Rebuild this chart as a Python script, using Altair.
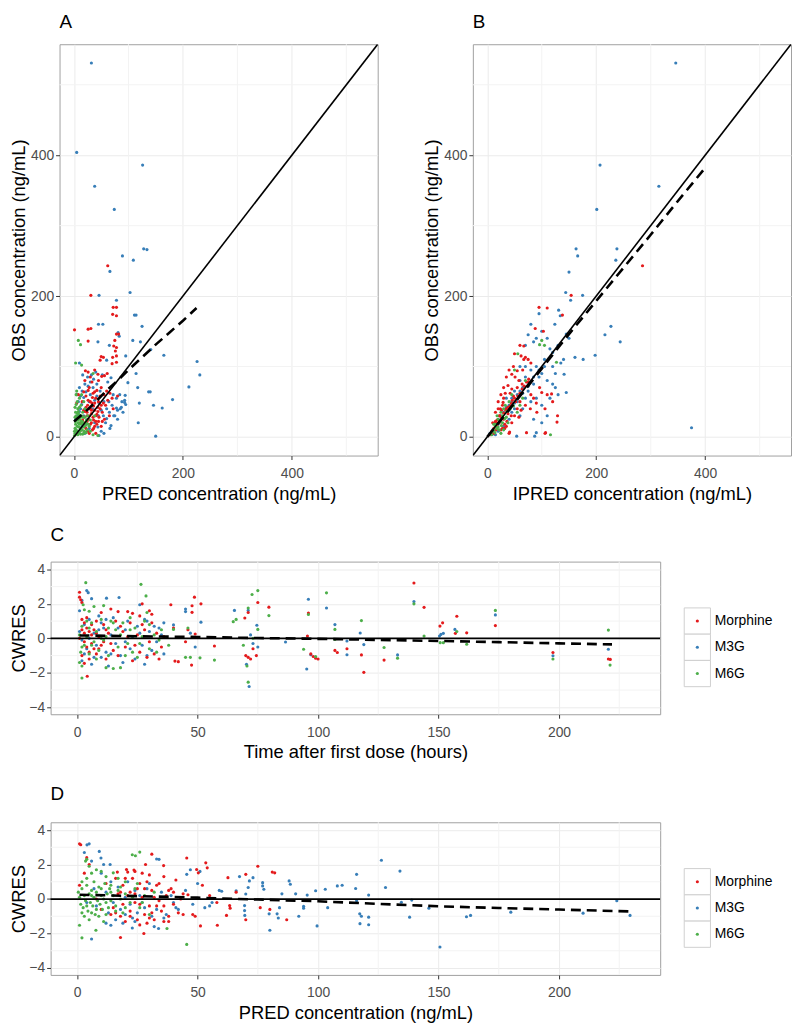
import altair as alt
import pandas as pd

FONT = "Liberation Sans"
CATS = ["Morphine", "M3G", "M6G"]
COLORS = ["#E41A1C", "#377EB8", "#4DAF4A"]
DRAW_ORDER = ["M3G", "Morphine", "M6G"]

# ---------------- Panel A: PRED vs OBS ----------------
A_MOR = [(62,243),(31,201),(72,184),(78,184),(71,174),(78,172),(26,153),(1,152),(31,154),(78,146),(82,146),
         (75,137),(26,136),(73,129),(78,127),(50,114),(54,113),(48,109),(71,113),(76,122),(78,115),(70,104),
         (78,106),(21,94),(26,92),(38,95),(44,89),(51,86),(56,87),(61,90),(28,70),(35,62),(22,58),(40,55),
         (33,48),(45,50),(25,45),(30,40),(38,38),(20,36),(42,32),(35,28),(27,25),(45,22),(30,18),(38,15),
         (22,12),(48,40),(52,35),(55,60),(50,70),(60,65),(15,50),(18,28),(25,8),(40,5),(33,78),(45,80),
         (58,45),(65,30),(12,20),(8,60),(5,48),(62,52),(70,55),(30,85),(20,80),(50,15),(56,25),(36,44),
         (42,66),(26,52),(32,33),(18,64),(48,58),(40,22),(34,10),(24,30),(44,42),(54,48),(66,62),(72,40),(80,58),
         (20,20),(24,22),(28,30),(32,38),(36,24),(40,30),(44,36),(30,50),(34,56),(38,64),(26,66),(22,42),
         (18,38),(16,24),(14,10),(28,5),(32,20),(36,12),(42,18),(46,28),(50,45),(52,22),(24,35),(38,48)]
A_M3G = [(32,531),(5,404),(126,386),(38,356),(74,323),(128,267),(134,266),(89,257),(109,251),(66,235),
         (103,205),(46,201),(78,194),(111,173),(114,173),(125,157),(45,160),(53,160),(81,148),(83,143),
         (108,137),(122,135),(44,135),(65,130),(141,124),(95,115),(165,116),(60,109),(226,107),(231,88),
         (10,105),(114,90),(99,77),(117,70),(137,64),(140,64),(211,71),(181,53),(120,48),(146,45),(162,41),
         (118,20),(150,1),(93,49),(95,46),(87,42),(78,41),(80,38),(94,59),(93,52),(73,30),(68,16),
         (10,70),(5,60),(15,65),(8,50),(20,75),(25,85),(12,40),(18,30),(30,60),(35,70),(42,75),(48,65),
         (55,50),(60,40),(65,35),(70,45),(75,30),(80,25),(85,40),(90,35),(58,20),(66,12),(50,8),(45,30),
         (38,20),(25,25),(15,15),(8,8),(3,25),(28,50),(52,88),(40,92),(62,78),(72,60),(78,55),(84,60),
         (88,50),(55,5),(46,2),(20,5),(32,88),(16,88),(68,84),(6,30),(10,36),(14,46),(18,56),(22,64),
         (26,72),(30,78),(34,40),(38,52),(42,58),(46,48),(50,38),(54,30),(60,26),(64,50),(22,18),(28,12),
         (12,58),(36,82),(44,14)]
A_M6G = [(8,137),(12,131),(3,105),(14,102),(35,90),(44,2),(2,5),(4,10),(6,15),(8,20),(10,25),(12,12),
         (14,18),(5,28),(3,35),(7,40),(9,32),(11,8),(15,22),(18,14),(20,28),(16,35),(13,45),(6,50),(22,20),
         (25,30),(4,60),(10,55),(18,5),(24,10),(28,15),(1,2),(3,18),(7,3),(30,8),(35,3),(16,4),(20,40),
         (26,18),(9,14),(12,28),(2,42),(5,65),(30,24),(22,6),(14,60),(38,30),(18,50),(1,8),(2,12),(3,22),
         (4,30),(5,4),(6,8),(7,24),(8,36),(9,6),(10,18),(11,30),(12,4),(13,22),(14,30),(15,10),(16,28),
         (17,20),(19,8),(21,16),(23,24),(2,28),(6,34),(10,42),(4,46)]
A_SMOOTH_X = [0, 20, 40, 60, 80, 100, 125, 150, 175, 200, 225]
A_SMOOTH_Y = [22, 35, 50, 66, 80, 95, 113, 131, 148, 165, 183]

# ---------------- Panel B: IPRED vs OBS ----------------
B_MOR = [(95,184),(110,183),(138,173),(154,201),(285,243),(128,21),(107,6),(88,154),(103,150),(67,129),
         (70,113),(67,110),(55,94),(45,89),(51,85),(58,80),(64,75),(96,70),(100,63),(118,61),(38,73),
         (45,68),(48,58),(29,49),(35,40),(23,30),(17,20),(32,12),(41,7),(79,40),(91,35),(106,40),(129,30),
         (72,6),(106,5),(60,130),(50,118),(62,115),(75,110),(80,105),(40,95),(48,100),(35,85),(65,95),
         (30,70),(25,60),(42,62),(55,70),(20,50),(28,45),(15,35),(22,30),(30,25),(10,20),(18,15),(25,10),
         (8,8),(12,5),(35,15),(45,20),(50,30),(55,40),(60,50),(70,45),(80,60),(85,55),(110,60),(120,50),
         (40,5),(30,55),(50,55),(20,40),(15,22),(5,3),(38,33),(26,38),(33,62),(44,48),(62,38),(90,48),(75,78),
         (14,18),(18,24),(22,20),(26,28),(30,34),(34,38),(38,42),(42,44),(46,52),(52,50),(56,58),(60,62),
         (64,68),(68,72),(72,78),(76,82),(28,12),(32,18),(36,22),(24,40),(16,10),(12,12),(44,30),(58,28)]
B_M3G = [(346,531),(207,386),(315,356),(201,323),(163,267),(166,257),(238,267),(236,251),(150,234),
         (144,205),(175,201),(153,194),(95,175),(131,180),(134,172),(124,160),(227,157),(216,145),(244,135),
         (198,116),(161,113),(176,110),(141,89),(145,63),(375,13),(87,1),(90,6),(54,1),(70,130),(85,135),
         (90,140),(75,145),(80,160),(100,150),(110,140),(115,125),(120,120),(105,110),(90,100),(80,95),
         (70,85),(60,80),(65,70),(75,65),(85,75),(95,85),(100,90),(110,80),(120,75),(125,70),(130,60),
         (115,55),(100,45),(90,55),(80,50),(70,55),(55,60),(45,50),(40,45),(50,40),(30,35),(25,30),(20,25),
         (15,20),(10,10),(5,5),(35,55),(45,35),(60,30),(65,40),(110,30),(100,20),(85,25),(120,100),
         (135,105),(140,110),(125,90),(60,100),(50,65),(40,25),(30,15),(20,8),(15,3),(150,140),(145,146),(130,130),
         (35,42),(45,55),(55,50),(65,62),(75,72),(85,85),(95,95),(105,100),(70,100),(60,65),(50,48),(40,38),
         (20,18),(10,4)]
B_M6G = [(100,137),(96,131),(56,118),(127,106),(116,3),(20,25),(15,15),(25,35),(30,40),(10,8),(18,30),
         (28,20),(35,28),(22,10),(12,18),(40,50),(45,60),(55,35),(60,45),(8,3),(25,5),(70,80),(50,95),
         (65,55),(33,45),(18,12),(38,20),(105,130),(12,10),(16,18),(20,14),(24,22),(28,30),(32,26),(36,36),
         (26,16),(14,6),(30,10),(42,40),(48,44)]
B_SMOOTH_X = [0, 50, 100, 150, 200, 250, 300, 350, 400]
B_SMOOTH_Y = [0, 48, 97, 146, 193, 240, 287, 335, 382]

# ---------------- Panel C: time vs CWRES ----------------
C_MOR = [(1,2.67),(1,2.39),(1.5,2.24),(2,2.08),(4.2,-2.2),(10,1.5),(14,1.7),(17,1.55),(21,1.55),(23,1.45),
         (27,2.0),(30,1.6),(31,1.4),(38.9,1.95),(40,0.6),(40.6,-1.32),(47.7,1.89),(48.7,2.39),(51.4,2.0),
         (47.7,1.51),(47.5,-1.55),(57,-0.44),(69.6,1.18),(75,2.08),(71,1.5),(79.6,1.81),(70,-1.0),(71,-1.1),
         (72,-1.2),(74.4,-1.0),(73,-0.6),(95.6,0.13),(96,1.47),(97,-0.9),(98,-1.05),(99,-1.15),(100,-1.2),
         (107,-0.7),(108,-0.82),(112,-0.6),(118,-0.96),(119,-1.97),(127.4,-1.26),(139.8,3.21),(144,1.8),
         (150.6,0.71),(151.7,0.9),(157.6,1.28),(157,0.29),(161.7,0.32),(173.6,0.74),(197.5,-0.82),
         (220.5,-1.2),(221.3,-1.22),(2,0.5),(3,0.3),(4,0.6),(5,0.4),(6,0.2),(7,0.5),(3,-0.2),(4,-0.5),
         (5,-0.8),(6,-0.3),(7,-0.6),(8,-0.9),(2,-1.0),(3,-1.45),(9,0.1),(10,-0.4),(11,0.8),(12,-1.2),
         (13,0.3),(15,-0.7),(16,1.0),(18,0.7),(20,-0.5),(22,0.9),(24,-0.4),(25,0.2),(26,-0.8),(28,0.5),
         (29,-1.1),(32,-0.9),(33,0.3),(35,-0.5),(36,0.1),(42,-1.35),(45,-0.2),(46,0.5),(49,0.25),(2,1.1),
         (4,1.2),(11,-0.2),(19,0.4),(26,1.3),(34,-1.2),(8,1.0),(1,0.0),(3,0.9),(5,-1.2),(6,0.8),(8,0.3),
         (9,-0.6),(12,0.5),(14,-0.3),(17,-1.0),(21,0.1),(23,-1.3),(27,0.8),(30,-0.2),(31,0.9)]
C_M3G = [(4,2.77),(4.6,2.65),(12.2,2.33),(17.4,2.37),(2,2.2),(26,1.95),(28,1.1),(29,1.0),(36,0.9),(45,1.7),
         (45,1.55),(51.4,0.94),(47,0.3),(49,-0.5),(40,0.78),(34,0.6),(65.3,1.62),(71,1.62),(74.6,0.76),
         (72,0.2),(73,-0.3),(75,-0.5),(70.3,-1.5),(71.4,-2.79),(86.5,-0.21),(96,2.27),(95.3,-1.78),(97,-0.95),
         (103.5,1.76),(107,0.8),(112,-0.15),(112,-0.95),(117.5,0.31),(119,-0.36),(133,-0.96),(139.8,2.14),
         (150.4,0.13),(151,0.23),(152,0.29),(156.8,0.52),(173.6,1.36),(197.5,-1.01),(220.5,-0.63),(1,0.4),
         (2,-0.1),(3,0.8),(4,-0.6),(5,1.1),(6,-1.5),(7,0.3),(8,-0.4),(9,1.3),(10,-1.1),(11,0.6),(12,-0.8),
         (13,-1.6),(14,0.2),(15,1.2),(16,-0.3),(18,-1.0),(20,0.5),(21,1.0),(22,-0.6),(23,0.1),(24,-1.2),
         (25,0.7),(27,-0.4),(28,-1.5),(30,0.4),(31,-0.7),(33,-0.2),(2,-1.3),(6,2.3),(1,1.6),(19,-1.4),
         (10,0.9),(36,-0.9),(3,-0.9),(5,0.0),(7,-1.1),(9,0.5),(12,1.1),(14,-0.9),(17,0.6),(20,-0.2),
         (26,0.3),(29,-1.0),(32,0.7),(35,0.2)]
C_M6G = [(3.6,3.23),(26.5,3.13),(28.6,2.46),(2,-2.3),(1,-1.4),(2,-1.6),(2.5,1.95),(3,1.66),(5,1.57),(7,1.85),
         (12,-1.7),(15,-1.75),(18,-1.7),(11,1.9),(14,1.0),(22,1.2),(29,1.5),(30,0.8),(35,0.5),(34,-0.1),
         (40,0.52),(38,-0.4),(45,-1.1),(47,-1.1),(51,-1.13),(46,0.6),(57,-1.26),(64.8,0.97),(66,1.1),(71,1.76),
         (72.6,2.54),(75,2.77),(75,0.52),(73,0.0),(69,-0.4),(71,-2.54),(70.5,-1.6),(79.6,1.32),(96,1.38),
         (94,-0.63),(99,-1.05),(103.5,2.64),(107,-0.06),(107,0.52),(118,1.03),(127.4,-0.53),(133,-1.15),
         (139.8,2.0),(144,0.13),(150.7,-0.25),(152,-0.25),(157.6,0.4),(161.7,-0.34),(173.6,1.62),(197.5,-1.2),
         (220.5,0.48),(221.2,-1.55),(1,0.2),(2,0.7),(3,-0.4),(4,0.1),(5,-0.9),(6,0.9),(7,-0.2),(8,0.4),
         (9,-0.7),(10,1.1),(11,-0.1),(13,0.6),(16,0.5),(17,-0.5),(19,0.9),(21,-0.3),(23,-0.8),(24,0.6),
         (25,-1.1),(27,0.1),(30,-0.6),(32,0.2),(1.5,-0.8),(5,0.6),(12,0.1),(2,-0.5),(4,1.0),(6,-0.4),
         (8,-1.2),(10,0.0),(13,-1.0),(15,0.9),(18,0.2),(20,-1.0),(22,0.5),(26,-0.3),(28,1.0),(33,-0.8)]
C_SMOOTH_X = [1, 25, 50, 75, 100, 125, 150, 175, 200, 222]
C_SMOOTH_Y = [0.17, 0.12, 0.08, 0.02, -0.03, -0.09, -0.15, -0.22, -0.29, -0.35]

# ---------------- Panel D: PRED vs CWRES ----------------
D_MOR = [(1,3.2),(1.5,3.15),(4,2.4),(5,2.0),(3,1.5),(1,0.8),(16.7,1.56),(20.5,1.71),(21,1.56),(23.6,1.68),
         (28.4,2.0),(31,2.6),(35.9,1.94),(45.5,2.38),(49.6,1.71),(50.3,1.52),(53.4,2.1),(54,1.81),(62.6,1.24),
         (70,1.43),(75,1.9),(81,1.56),(82,1.52),(18,-2.23),(27.7,-2.0),(51.2,-1.56),(58.2,-1.52),(62,-0.95),
         (63.3,-0.38),(63.5,-0.53),(49,-1.0),(48,-0.9),(44,0.3),(46,0.25),(80,-0.6),(87,-1.2),(76,-0.5),
         (70,-1.2),(15,-0.5),(17,0.3),(18,-1.0),(19,0.8),(20,-1.3),(21,0.2),(22,-0.7),(23,1.2),(24,-0.2),
         (25,0.6),(26,-1.5),(27,0.1),(28,-0.9),(29,1.0),(30,-0.4),(31,0.5),(32,-1.2),(33,0.8),(34,-0.1),
         (35,-0.7),(36,1.3),(37,0.2),(38,-1.0),(39,0.6),(40,-0.3),(41,1.1),(42,-0.8),(43,0.0),(12,0.9),
         (14,-0.9),(26,0.9),(29,-1.4),(33,-0.4),(24,1.6),(19,-0.3),(36,-1.3),(38,0.5),(22,0.4),(31,-0.8),
         (27,1.5),(16,1.2),(8,0.0),(10,-0.6),(55,0.2),(58,-0.2),(52,0.8),(66,0.4),(16,-0.8),(18,0.4),
         (20,1.2),(22,-1.0),(24,0.3),(26,-0.3),(28,0.6),(30,-1.1),(32,0.1),(34,0.9),(36,-0.4),(38,-1.3),
         (40,0.4),(44,-0.9),(30,1.4),(25,-1.2)]
D_M3G = [(4.1,3.14),(5,3.2),(3,2.7),(9.2,2.76),(9.9,2.38),(6,2.2),(13.7,2.0),(33,2.32),(34,2.3),(6,-2.32),
         (14,-1.52),(22.9,-1.68),(33.8,-1.71),(12,-1.4),(45.5,1.43),(47,1.7),(116,1.43),(110,0.8),(108,0.76),
         (103,0.57),(99,0.48),(95.5,0.23),(94,-0.42),(94,-0.53),(92,-1.0),(99.6,-1.56),(90.7,0.3),(88,1.05),
         (88.5,0.86),(85,0.3),(84,-0.5),(83,-0.86),(83.5,-1.1),(80,-1.81),(79.7,-0.86),(77,0.95),(77.5,0.57),
         (77,0.76),(71.5,1.05),(73,1.24),(71,0.67),(70,0.29),(69.5,-0.38),(69.5,-0.67),(69.6,-0.95),(67.4,1.3),
         (66,0.48),(60,0.45),(59,0.5),(56,-0.2),(55,-0.4),(53,-0.5),(51,1.6),(115.6,0.61),(116,-0.1),
         (117.3,-0.86),(118,-1.0),(117.4,-1.43),(121,0.23),(121,-1.05),(121,-1.49),(126.3,2.25),(128,0.67),
         (134,1.62),(134.6,-0.19),(138,-1.05),(138.9,-0.06),(146,-0.53),(150.6,-2.78),(161.6,-1.03),
         (163.3,-0.95),(180,-0.76),(210,-0.82),(224,-0.1),(229.5,-0.95),(104,-0.5),(40,-0.2),(42,-0.6),
         (7,0.6),(8,-0.4),(10,1.5),(12,0.4),(13,-0.8),(14,1.0),(15,-0.2),(16,-1.2),(17,0.7),(18,-0.6),
         (19,-1.4),(20,0.1),(21,1.0),(22,-0.3),(23,-1.1),(24,0.5),(25,-0.8),(26,0.2),(28,-0.5),(30,0.9),
         (32,-1.6),(35,0.4),(37,-0.9),(11,2.0),(4,-0.2),(20,-0.9),(24,-1.3),(27,-0.2),(29,0.6),(31,-1.0),
         (33,-0.6),(36,-1.1),(39,0.2),(41,-0.5),(45,0.5),(48,-0.3),(50,0.9)]
D_M6G = [(1,-1.52),(2,-2.25),(7.8,-1.81),(22.9,2.57),(24.2,2.51),(26,2.72),(4,2.3),(3.5,2.2),(5,1.9),(8,1.7),
         (10,1.6),(6,1.5),(12,1.3),(37.3,-1.71),(45.5,-2.63),(15,1.52),(17,1.2),(20,1.0),(0.5,0.4),(1,0.1),
         (1.5,-0.3),(2,0.6),(2.5,-0.5),(3,0.2),(3.5,-0.1),(4,0.8),(4.5,-0.7),(5,0.3),(5.5,-0.2),(6,0.5),
         (6.5,-0.4),(7,0.1),(7.5,-0.9),(8,0.4),(8.5,-0.1),(9,0.7),(9.5,-0.3),(10,0.2),(10.5,-0.6),(11,0.0),
         (11.5,0.9),(12,-0.2),(12.5,0.3),(13,-0.5),(13.5,0.6),(14,-0.1),(15,0.2),(16,-0.4),(17,0.5),(18,0.0),
         (19,-0.8),(20,0.3),(22,-0.2),(24,0.6),(26,-0.5),(28,0.2),(3,-1.0),(5,-1.2),(4,1.2),(7,1.0),(9,-1.0),
         (11,-1.3),(2,1.0),(6,-0.8),(14,0.8),(30,-0.9),(32,0.4),(25,0.9),(2,-0.8),(4,-0.4),(6,0.2),(8,-0.6),
         (10,0.6),(12,-0.9),(14,0.4),(16,-0.7),(18,0.7),(20,-0.5),(23,0.1),(27,-0.2)]
D_SMOOTH_X = [1, 25, 50, 75, 100, 125, 150, 175, 200, 230]
D_SMOOTH_Y = [0.25, 0.17, 0.08, -0.03, -0.13, -0.28, -0.42, -0.52, -0.61, -0.72]

# axis ticks / limits
AB_DOMAIN = [-26.5, 557.6]
AB_MAJOR = [0, 200, 400]
AB_MINOR = [100, 300, 500]
CD_XDOMAIN = [-11, 242]
CD_YDOMAIN = [-4.4, 4.45]
CD_XMAJOR = [0, 50, 100, 150, 200]
CD_XMINOR = [25, 75, 125, 175, 225]
CD_YMAJOR = [-4, -2, 0, 2, 4]
CD_YMINOR = [-3, -1, 1, 3]

MINOR_COLOR = "#f3f3f3"
COLOR_SCALE = alt.Scale(domain=CATS, range=COLORS)


def make_df(groups, xf, yf):
    rows = []
    for name in DRAW_ORDER:
        for x, y in groups[name]:
            rows.append({xf: x, yf: y, "grp": name})
    return pd.DataFrame(rows)


def letter_title(t, offset, color="black"):
    return alt.Title(t, anchor="start", frame="group", fontSize=19, fontWeight="normal",
                     font=FONT, color=color, offset=offset)


def panel(groups, sx, sy, xdom, ydom, xmaj, xmin, ymaj, ymin, xtitle, ytitle,
          width, height, ref_kind="identity", xtp=4, ytp=2):
    xs = alt.Scale(domain=xdom, nice=False, zero=False)
    ys = alt.Scale(domain=ydom, nice=False, zero=False)
    xax = alt.Axis(values=xmaj, title=xtitle, titlePadding=xtp, labelPadding=7)
    yax = alt.Axis(values=ymaj, title=ytitle, titlePadding=ytp)
    df = make_df(groups, "px", "py")
    gx = alt.Chart(pd.DataFrame({"m": xmin})).mark_rule(color=MINOR_COLOR, strokeWidth=1).encode(
        x=alt.X("m:Q", scale=xs, axis=xax))
    gy = alt.Chart(pd.DataFrame({"m": ymin})).mark_rule(color=MINOR_COLOR, strokeWidth=1).encode(
        y=alt.Y("m:Q", scale=ys, axis=yax))
    pts = alt.Chart(df).mark_circle(size=10, opacity=1).encode(
        x=alt.X("px:Q", scale=xs, axis=xax),
        y=alt.Y("py:Q", scale=ys, axis=yax),
        color=alt.Color("grp:N", scale=COLOR_SCALE, legend=None),
    )
    if ref_kind == "identity":
        ref = alt.Chart(pd.DataFrame({"p": xdom})).mark_line(color="black", strokeWidth=1.6, clip=True).encode(
            x=alt.X("p:Q", scale=xs, axis=xax), y=alt.Y("p:Q", scale=ys, axis=yax))
    else:
        ref = alt.Chart(pd.DataFrame({"z": [0]})).mark_rule(color="black", strokeWidth=1.8).encode(
            y=alt.Y("z:Q", scale=ys, axis=yax))
    sm = alt.Chart(pd.DataFrame({"sx": sx, "sy": sy})).mark_line(
        color="black", strokeWidth=2.6, strokeDash=[10, 6], clip=True).encode(
        x=alt.X("sx:Q", scale=xs, axis=xax), y=alt.Y("sy:Q", scale=ys, axis=yax))
    return alt.layer(gx, gy, pts, ref, sm).properties(width=width, height=height)


def legend_chart(height, letter, offset):
    ldf = pd.DataFrame({"grp": CATS})
    ly = alt.Y("grp:N", scale=alt.Scale(domain=CATS, range=[46.7, 126.2], paddingInner=0, paddingOuter=0),
               axis=None)
    box = alt.Chart(ldf).mark_square(size=700, fill="white", stroke="#cfcfcf", strokeWidth=1, opacity=1).encode(
        x=alt.value(13.5), y=ly)
    dot = alt.Chart(ldf).mark_circle(size=10, opacity=1).encode(
        x=alt.value(13.5), y=ly, color=alt.Color("grp:N", scale=COLOR_SCALE, legend=None))
    txt = alt.Chart(ldf).mark_text(align="left", baseline="middle", font=FONT, fontSize=14, color="black").encode(
        x=alt.value(31), y=ly, text="grp:N")
    return alt.layer(box, dot, txt).properties(
        width=90, height=height, title=letter_title(letter, offset, color="white"),
        view=alt.ViewBackground(stroke="transparent", strokeWidth=0))


def spacer():
    return alt.Chart(pd.DataFrame({"s": [0]})).mark_point(size=0, opacity=0, strokeWidth=0).encode(
        x=alt.value(0), y=alt.value(0)).properties(
        width=1, height=1, view=alt.ViewBackground(stroke="transparent", strokeWidth=0))


chart_a = panel({"Morphine": A_MOR, "M3G": A_M3G, "M6G": A_M6G}, A_SMOOTH_X, A_SMOOTH_Y,
                AB_DOMAIN, AB_DOMAIN, AB_MAJOR, AB_MINOR, AB_MAJOR, AB_MINOR,
                "PRED concentration (ng/mL)", "OBS concentration (ng/mL)", 321, 415).properties(
    title=letter_title("A", 12))
chart_b = panel({"Morphine": B_MOR, "M3G": B_M3G, "M6G": B_M6G}, B_SMOOTH_X, B_SMOOTH_Y,
                AB_DOMAIN, AB_DOMAIN, AB_MAJOR, AB_MINOR, AB_MAJOR, AB_MINOR,
                "IPRED concentration (ng/mL)", "OBS concentration (ng/mL)", 321, 415).properties(
    title=letter_title("B", 12))

chart_c = panel({"Morphine": C_MOR, "M3G": C_M3G, "M6G": C_M6G}, C_SMOOTH_X, C_SMOOTH_Y,
                CD_XDOMAIN, CD_YDOMAIN, CD_XMAJOR, CD_XMINOR, CD_YMAJOR, CD_YMINOR,
                "Time after first dose (hours)", "CWRES", 615, 154, ref_kind="zero", ytp=0).properties(
    title=letter_title("C", 16))
chart_d = panel({"Morphine": D_MOR, "M3G": D_M3G, "M6G": D_M6G}, D_SMOOTH_X, D_SMOOTH_Y,
                CD_XDOMAIN, CD_YDOMAIN, CD_XMAJOR, CD_XMINOR, CD_YMAJOR, CD_YMINOR,
                "PRED concentration (ng/mL)", "CWRES", 615, 154, ref_kind="zero", ytp=0).properties(
    title=letter_title("D", 18))

row1 = alt.concat(spacer(), alt.hconcat(chart_a, chart_b, spacing=44), columns=2, spacing=0, align="none")
row_c = alt.concat(spacer(), alt.hconcat(chart_c, legend_chart(154, "C", 16), spacing=20),
                   columns=2, spacing=0, align="none")
row_d = alt.concat(spacer(), alt.hconcat(chart_d, legend_chart(154, "D", 18), spacing=20),
                   columns=2, spacing=0, align="none")

chart = alt.concat(row1, row_c, row_d, columns=1, align="none", spacing=23).properties(
    padding={"left": 0, "top": 0, "right": 0, "bottom": 0}
).configure_view(
    stroke="#a0a0a0", strokeWidth=1
).configure_axis(
    grid=True, gridColor="#ebebeb", gridWidth=1, domain=False,
    tickColor="#333333", tickSize=4, tickWidth=1,
    labelFont=FONT, labelFontSize=14, labelColor="#4d4d4d", labelPadding=2,
    titleFont=FONT, titleFontSize=18.5, titleFontWeight="normal", titleColor="black",
)

chart.save("out.html", embed_options={"renderer": "svg", "actions": False})
